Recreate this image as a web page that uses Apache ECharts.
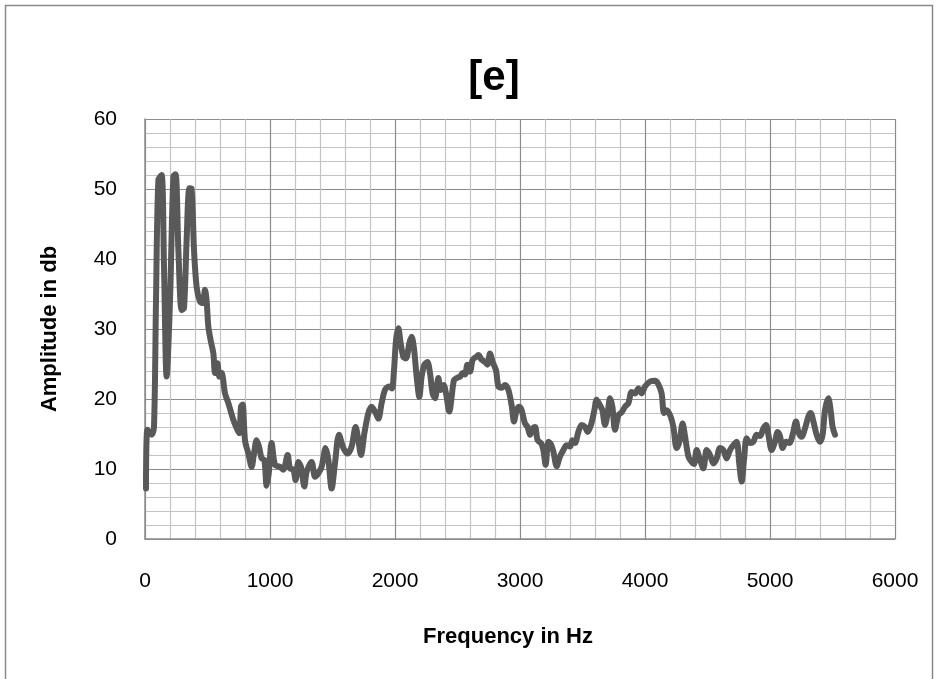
<!DOCTYPE html>
<html>
<head>
<meta charset="utf-8">
<script src="https://cdn.jsdelivr.net/npm/echarts@6/dist/echarts.min.js"></script>
<style>
  html, body { margin: 0; padding: 0; background: #fff; }
  #chart { width: 938px; height: 679px; }
</style>
</head>
<body>
<div id="chart"></div>
<script>
// Spectrum of sample [e]: frequency (Hz) against amplitude (dB)
const freqHz = [
  8, 19, 53, 72, 88, 107, 133, 152, 173, 200, 227, 245, 267, 293, 312, 333, 355, 373, 392, 413,
  440, 461, 480, 493, 507, 525, 547, 560, 579, 595, 613, 640, 667, 707, 739, 755, 768, 781, 800, 827,
  853, 872, 893, 912, 933, 955, 973, 990, 1013, 1040, 1080, 1107, 1141, 1160, 1187, 1205, 1227, 1248, 1275, 1293,
  1333, 1360, 1387, 1413, 1445, 1467, 1493, 1520, 1552, 1587, 1621, 1653, 1685, 1707, 1728, 1755, 1787, 1813, 1845, 1867,
  1893, 1920, 1952, 1975, 1992, 2008, 2027, 2045, 2067, 2088, 2115, 2133, 2152, 2173, 2195, 2213, 2235, 2259, 2280, 2301,
  2320, 2347, 2365, 2389, 2408, 2435, 2453, 2472, 2493, 2520, 2541, 2560, 2579, 2600, 2621, 2648, 2667, 2693, 2720, 2739,
  2760, 2781, 2808, 2827, 2853, 2880, 2907, 2933, 2952, 2973, 2995, 3013, 3040, 3061, 3080, 3099, 3120, 3141, 3168, 3187,
  3205, 3227, 3248, 3267, 3293, 3320, 3347, 3373, 3400, 3419, 3440, 3467, 3493, 3520, 3541, 3568, 3595, 3613, 3640, 3659,
  3680, 3701, 3720, 3739, 3760, 3787, 3813, 3840, 3867, 3893, 3920, 3947, 3973, 4000, 4040, 4080, 4107, 4133, 4152, 4173,
  4205, 4227, 4253, 4275, 4301, 4320, 4347, 4373, 4392, 4413, 4440, 4467, 4493, 4520, 4547, 4573, 4600, 4627, 4653, 4680,
  4707, 4733, 4755, 4773, 4792, 4813, 4840, 4867, 4893, 4920, 4947, 4968, 4987, 5013, 5040, 5061, 5080, 5101, 5128, 5155,
  5181, 5208, 5227, 5253, 5280, 5307, 5325, 5347, 5373, 5400, 5421, 5440, 5467, 5485, 5501, 5520
];
const ampDb = [
  7.2, 15.6, 14.9, 16, 34, 51.3, 52, 38.9, 23.2, 34, 51.8, 52.1, 41.3, 32.7, 33, 42.7, 50.1, 50, 41.3, 36,
  33.9, 33.7, 35.6, 34, 30.3, 28.4, 26.5, 23.7, 25.1, 23.2, 23.7, 20.8, 19.4, 17, 15.6, 15.1, 18.9, 19.2, 14.1, 12.2,
  10.3, 12.2, 14.1, 13.2, 11.5, 11.3, 7.6, 9.4, 13.7, 10.6, 10.3, 9.9, 12, 10.1, 9.9, 8.4, 11, 10.3, 7.5, 9.6,
  11, 8.9, 9.4, 10.3, 13, 11.3, 7.2, 10.8, 14.9, 13, 12.2, 13.2, 16, 14.1, 12, 15.1, 18, 18.9, 18, 17.2,
  19.4, 21.3, 21.8, 21.5, 24.1, 28.4, 30.1, 28, 26, 25.8, 28, 28.9, 27.2, 23.2, 20.3, 23.2, 24.9, 25.3, 23.7, 20.8,
  20.1, 23, 21.3, 22, 20.8, 18.2, 20.3, 22.7, 23, 23.2, 23.7, 23.5, 24.9, 23.9, 25.6, 26, 26.3, 25.6, 25.3, 24.9,
  26.5, 25.3, 24.1, 21.8, 21.6, 22, 21.3, 19.1, 16.8, 18.4, 18.9, 18.4, 16.5, 16, 14.9, 15.7, 16, 14.1, 13.7, 12.7,
  10.6, 13.9, 13.5, 12.5, 10.4, 11.8, 12.7, 13.4, 13.2, 14.1, 13.7, 15.3, 16.3, 16, 15.3, 16.3, 18.4, 19.9, 19.1, 18.4,
  16.3, 17.9, 20.1, 18.9, 15.6, 17.7, 18.1, 18.9, 19.4, 21, 20.8, 21.5, 20.8, 21.8, 22.5, 22.6, 22.1, 20.8, 18, 18.4,
  17.5, 16, 13, 13.9, 16.5, 14.7, 11.8, 11, 10.7, 12.7, 11.3, 10.1, 12.7, 12, 10.8, 11.5, 13, 12.7, 11.5, 12.7,
  13.4, 13.9, 10.6, 8.2, 11.3, 14.4, 13.7, 13.9, 14.9, 14.7, 15.8, 16.3, 14.9, 12.7, 13.9, 15.3, 14.7, 13, 13.9, 13.7,
  14.9, 16.8, 15.3, 14.6, 15.8, 17.5, 18, 16.8, 14.9, 13.9, 14.9, 18.4, 20.1, 18.4, 16, 14.9
];

const xTicks = { min: 0, max: 6000, step: 1000 };
const yTicks = { min: 0, max: 60, step: 10 };

const titleText = '[e]';
const xName = 'Frequency in Hz';
const yName = 'Amplitude in db';

const sans = "'Liberation Sans', Arial, sans-serif";
const majorGrid = '#8c8c8c';
const minorGrid = '#c3c3c3';

const chart = echarts.init(document.getElementById('chart'), null, { renderer: 'canvas' });

chart.setOption({
  backgroundColor: '#ffffff',
  animation: false,
  title: [{
    text: titleText,
    left: 489,
    top: 52,
    textAlign: 'center',
    textStyle: { fontFamily: sans, fontSize: 42, fontWeight: 'bold', color: '#000' }
  }, {
    // horizontal axis title, centred on the chart area like the main title
    text: xName,
    left: 503,
    top: 621,
    textAlign: 'center',
    textStyle: { fontFamily: sans, fontSize: 22, fontWeight: 'bold', color: '#000' }
  }],
  graphic: [{
    type: 'rect',
    shape: { x: 5.5, y: 5.5, width: 927, height: 700 },
    style: { fill: 'none', stroke: '#8a8a8a', lineWidth: 1.5 },
    silent: true
  }],
  grid: { left: 145, right: 43, top: 119, bottom: 140, containLabel: false },
  xAxis: {
    type: 'value',
    min: xTicks.min, max: xTicks.max, interval: xTicks.step,
    axisLine: { show: true, lineStyle: { color: majorGrid, width: 1.5 } },
    axisTick: { show: false },
    axisLabel: { fontFamily: sans, fontSize: 21, color: '#000', margin: 32, formatter: v => String(v) },
    splitLine: { show: true, lineStyle: { color: majorGrid, width: 1.2 } },
    minorTick: { show: false, splitNumber: 5 },
    minorSplitLine: { show: true, lineStyle: { color: minorGrid, width: 1.2 } }
  },
  yAxis: {
    type: 'value',
    min: yTicks.min, max: yTicks.max, interval: yTicks.step,
    name: yName,
    nameLocation: 'middle',
    nameRotate: 90,
    nameGap: 84,
    nameTextStyle: { fontFamily: sans, fontSize: 22, fontWeight: 'bold', color: '#000' },
    axisLine: { show: true, lineStyle: { color: majorGrid, width: 1.5 } },
    axisTick: { show: false },
    axisLabel: { fontFamily: sans, fontSize: 21, color: '#000', margin: 28, formatter: v => String(v) },
    splitLine: { show: true, lineStyle: { color: majorGrid, width: 1.2 } },
    minorTick: { show: false, splitNumber: 5 },
    minorSplitLine: { show: true, lineStyle: { color: minorGrid, width: 1.2 } }
  },
  series: [{
    type: 'line',
    data: freqHz.map((f, i) => [f, ampDb[i]]),
    showSymbol: false,
    smooth: 0.3,
    lineStyle: { color: '#595959', width: 6, cap: 'round', join: 'round' },
    z: 5
  }]
});
</script>
</body>
</html>
